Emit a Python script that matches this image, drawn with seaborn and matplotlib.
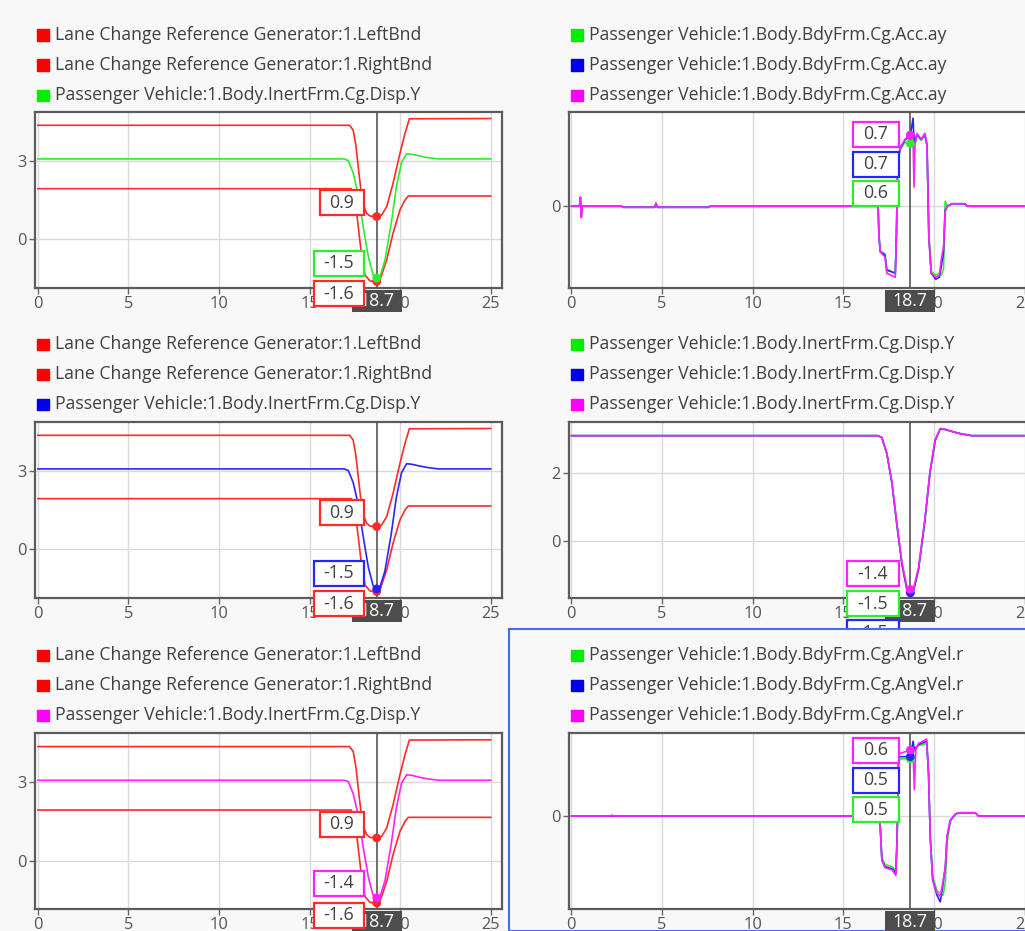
import numpy as np
import matplotlib
matplotlib.use("Agg")
import matplotlib.pyplot as plt
import matplotlib.transforms as mtransforms
from matplotlib.patches import Rectangle
import seaborn as sns

# ---------------- data ----------------
cursor_time = 18.7
x_ticks = [0, 5, 10, 15, 20, 25]

t_left_bnd = [0.0, 17.2, 17.4, 17.55, 17.68, 17.87, 18.0, 18.14, 18.33, 18.7, 18.97, 19.25, 19.6, 19.98, 20.26, 20.5, 25.0]
left_bnd = [4.37, 4.37, 4.19, 3.6, 2.78, 1.63, 1.25, 1.0, 0.89, 0.87, 0.93, 1.25, 2.14, 3.29, 4.06, 4.62, 4.63]

t_right_bnd = [0.0, 17.3, 17.5, 17.68, 17.87, 18.05, 18.33, 18.7, 18.88, 19.25, 19.6, 19.98, 20.26, 20.44, 25.0]
right_bnd = [1.94, 1.94, 1.5, 0.49, -0.66, -1.37, -1.6, -1.62, -1.56, -0.79, 0.23, 1.12, 1.5, 1.66, 1.66]

t_disp = [0.0, 16.9, 17.13, 17.4, 17.68, 17.96, 18.24, 18.5, 18.7, 18.88, 19.15, 19.5, 19.78, 20.07, 20.35, 20.63, 21.08, 21.45, 22.1, 25.0]
disp_green = [3.08, 3.08, 3.02, 2.55, 1.7, 0.45, -0.68, -1.37, -1.49, -1.43, -0.82, 0.6, 2.0, 2.95, 3.28, 3.26, 3.19, 3.14, 3.08, 3.08]
disp_blue = [3.08, 3.08, 3.02, 2.56, 1.72, 0.46, -0.7, -1.4, -1.52, -1.45, -0.84, 0.58, 1.98, 2.94, 3.28, 3.26, 3.19, 3.14, 3.08, 3.08]
disp_magenta = [3.08, 3.08, 3.03, 2.57, 1.74, 0.5, -0.64, -1.32, -1.42, -1.38, -0.78, 0.63, 2.02, 2.97, 3.29, 3.27, 3.19, 3.14, 3.08, 3.08]

t_acc = [0.0, 0.45, 0.5, 0.55, 0.6, 2.8, 2.85, 4.6, 4.67, 4.75, 7.6, 7.65, 16.92, 16.97, 17.04, 17.3, 17.4,
         17.87, 17.93, 18.0, 18.14, 18.4, 18.7, 18.85, 18.9, 18.95, 19.06, 19.3, 19.5, 19.62, 19.72, 19.85,
         20.1, 20.3, 20.4, 20.53, 20.62, 20.75, 21.0, 21.7, 21.85, 25.0]
acc_green = [0.0, 0.0, 0.08, -0.1, 0.0, 0.0, -0.01, -0.01, 0.02, -0.01, -0.01, 0.0, 0.0, -0.28, -0.44, -0.47, -0.62,
             -0.66, -0.3, 0.43, 0.56, 0.63, 0.62, 0.66, 0.7, 0.62, 0.7, 0.65, 0.7, 0.6, -0.28, -0.64,
             -0.68, -0.66, -0.68, -0.62, 0.05, 0.0, 0.025, 0.025, 0.0, 0.0]
acc_blue = [0.0, 0.0, 0.09, -0.11, 0.0, 0.0, -0.01, -0.01, 0.03, -0.01, -0.01, 0.0, 0.0, -0.3, -0.45, -0.48, -0.63,
            -0.66, -0.3, 0.45, 0.57, 0.65, 0.7, 0.87, 0.64, 0.62, 0.71, 0.66, 0.71, 0.6, -0.3, -0.66,
            -0.72, -0.7, -0.6, -0.45, -0.04, 0.0, 0.025, 0.025, 0.0, 0.0]
acc_magenta = [0.0, 0.0, 0.09, -0.11, 0.0, 0.0, -0.01, -0.01, 0.03, -0.01, -0.01, 0.0, 0.0, -0.3, -0.45, -0.5, -0.66,
               -0.7, -0.3, 0.45, 0.58, 0.66, 0.7, 0.66, 0.19, 0.6, 0.72, 0.66, 0.72, 0.6, -0.3, -0.66,
               -0.7, -0.68, -0.53, -0.4, -0.05, 0.0, 0.025, 0.025, 0.0, 0.0]

t_yaw = [0.0, 2.2, 2.25, 2.3, 16.95, 17.04, 17.13, 17.3, 17.7, 17.9, 17.97, 18.05, 18.14, 18.7, 18.85, 18.92, 19.0,
         19.15, 19.6, 19.7, 19.8, 19.93, 20.17, 20.35, 20.5, 20.63, 20.72, 20.9, 21.2, 21.45, 22.28, 22.46, 25.0]
yaw_green = [0.0, 0.0, 0.0, 0.0, 0.0, -0.1, -0.38, -0.44, -0.46, -0.5, -0.2, 0.5, 0.52, 0.52, 0.56, 0.6, 0.62,
             0.64, 0.66, 0.4, -0.2, -0.55, -0.68, -0.7, -0.72, -0.6, -0.25, -0.05, 0.02, 0.03, 0.03, 0.0, 0.0]
yaw_blue = [0.0, 0.0, 0.0, 0.0, 0.0, -0.1, -0.4, -0.46, -0.48, -0.52, -0.2, 0.52, 0.54, 0.54, 0.68, 0.6, 0.62,
            0.65, 0.68, 0.4, -0.2, -0.58, -0.72, -0.78, -0.62, -0.46, -0.19, -0.04, 0.02, 0.03, 0.03, 0.0, 0.0]
yaw_magenta = [0.0, 0.0, 0.01, 0.0, 0.0, -0.1, -0.4, -0.47, -0.49, -0.54, -0.2, 0.55, 0.57, 0.6, 0.58, 0.24, 0.6,
               0.66, 0.7, 0.4, -0.2, -0.58, -0.7, -0.73, -0.6, -0.46, -0.19, -0.04, 0.02, 0.03, 0.03, 0.0, 0.0]

lbl_left = "Lane Change Reference Generator:1.LeftBnd"
lbl_right = "Lane Change Reference Generator:1.RightBnd"
lbl_disp = "Passenger Vehicle:1.Body.InertFrm.Cg.Disp.Y"
lbl_acc = "Passenger Vehicle:1.Body.BdyFrm.Cg.Acc.ay"
lbl_yaw = "Passenger Vehicle:1.Body.BdyFrm.Cg.AngVel.r"

cursor_vals_1 = [0.9, -1.5, -1.6]
cursor_vals_2 = [0.7, 0.7, 0.6]
cursor_vals_3 = [0.9, -1.5, -1.6]
cursor_vals_4 = [-1.4, -1.5, -1.5]
cursor_vals_5 = [0.9, -1.4, -1.6]
cursor_vals_6 = [0.6, 0.5, 0.5]

# ---------------- style ----------------
W, H = 1025, 931
BG = "#f8f8f8"
RED, GREEN, BLUE, MAG = "#ff2a2a", "#2cee2c", "#2626ff", "#ff22ff"
SQ = {RED: "#ff0000", GREEN: "#00ee00", BLUE: "#0000ee", MAG: "#ff00ff"}
TXT = "#404040"
TICK = "#555555"
FS_LEG = 12.7
FS_TICK = 11.8
FS_LBL = 12.8

sns.set_theme(style="white")
plt.rcParams["font.family"] = ["Open Sans", "DejaVu Sans"]

fig = plt.figure(figsize=(W / 100, H / 100), dpi=100, facecolor=BG)

panels = [
    dict(box=(35, 112, 502, 288), xlim=(-0.149, 25.61), ylim=(-1.87, 4.88), yticks=[0, 3],
         series=[(t_left_bnd, left_bnd, RED, lbl_left), (t_right_bnd, right_bnd, RED, lbl_right),
                 (t_disp, disp_green, GREEN, lbl_disp)],
         legend_y=[35, 65, 95], lx=43,
         cur=[(0, cursor_vals_1[0], RED, 44, -13), (2, cursor_vals_1[1], GREEN, 50, -15),
              (1, cursor_vals_1[2], RED, 50, 13)], dxr=-13),
    dict(box=(569, 112, 1036, 288), xlim=(-0.127, 25.63), ylim=(-0.806, 0.93), yticks=[0],
         series=[(t_acc, acc_green, GREEN, lbl_acc), (t_acc, acc_blue, BLUE, lbl_acc),
                 (t_acc, acc_magenta, MAG, lbl_acc)],
         legend_y=[35, 65, 95], lx=577,
         cur=[(2, cursor_vals_2[0], MAG, 46, -1), (1, cursor_vals_2[1], BLUE, 46, 29),
              (0, cursor_vals_2[2], GREEN, 46, 48)], dxr=-11.5),
    dict(box=(35, 422, 502, 598), xlim=(-0.149, 25.61), ylim=(-1.87, 4.88), yticks=[0, 3],
         series=[(t_left_bnd, left_bnd, RED, lbl_left), (t_right_bnd, right_bnd, RED, lbl_right),
                 (t_disp, disp_blue, BLUE, lbl_disp)],
         legend_y=[344, 374, 404], lx=43,
         cur=[(0, cursor_vals_3[0], RED, 44, -13), (2, cursor_vals_3[1], BLUE, 50, -15),
              (1, cursor_vals_3[2], RED, 50, 13)], dxr=-13),
    dict(box=(569, 422, 1036, 598), xlim=(-0.127, 25.63), ylim=(-1.67, 3.48), yticks=[0, 2],
         series=[(t_disp, disp_green, GREEN, lbl_disp), (t_disp, disp_blue, BLUE, lbl_disp),
                 (t_disp, disp_magenta, MAG, lbl_disp)],
         legend_y=[344, 374, 404], lx=577,
         cur=[(1, cursor_vals_4[2], BLUE, 52, 40.5), (0, cursor_vals_4[1], GREEN, 52, 11.5),
              (2, cursor_vals_4[0], MAG, 52, -15)], dxr=-11.5),
    dict(box=(35, 733, 502, 909), xlim=(-0.149, 25.61), ylim=(-1.85, 4.89), yticks=[0, 3],
         series=[(t_left_bnd, left_bnd, RED, lbl_left), (t_right_bnd, right_bnd, RED, lbl_right),
                 (t_disp, disp_magenta, MAG, lbl_disp)],
         legend_y=[655, 685, 715], lx=43,
         cur=[(0, cursor_vals_5[0], RED, 44, -13), (2, cursor_vals_5[1], MAG, 50, -14),
              (1, cursor_vals_5[2], RED, 50, 13)], dxr=-13),
    dict(box=(569, 733, 1036, 909), xlim=(-0.127, 25.63), ylim=(-0.845, 0.755), yticks=[0],
         series=[(t_yaw, yaw_green, GREEN, lbl_yaw), (t_yaw, yaw_blue, BLUE, lbl_yaw),
                 (t_yaw, yaw_magenta, MAG, lbl_yaw)],
         legend_y=[655, 685, 715], lx=577,
         cur=[(2, cursor_vals_6[0], MAG, 46, 0), (1, cursor_vals_6[1], BLUE, 46, 19),
              (0, cursor_vals_6[2], GREEN, 46, 48.5)], dxr=-11.5),
]

# selection frame around bottom-right panel
sel = Rectangle((509 / W, 0), 0.6, 1 - 629 / H, transform=fig.transFigure, fc=BG, ec="#3f6df5",
                lw=1.5, zorder=0.5)
fig.add_artist(sel)

for i, p in enumerate(panels):
    l, t, r, b = p["box"]
    ax = fig.add_axes([l / W, 1 - b / H, (r - l) / W, (b - t) / H], zorder=1 if i == 5 else 0)
    ax.set_facecolor("white")
    for (tt, yy, c, lab) in p["series"]:
        sns.lineplot(x=tt, y=yy, ax=ax, color=c, lw=1.2, legend=False, estimator=None, sort=False)
    ax.set_xlim(*p["xlim"])
    ax.set_ylim(*p["ylim"])
    ax.set_xticks(x_ticks)
    ax.set_yticks(p["yticks"])
    ax.set_xticklabels([str(v) for v in x_ticks])
    ax.set_yticklabels([str(v) for v in p["yticks"]])
    ax.grid(True, color="#dadada", lw=1)
    ax.set_axisbelow(True)
    ax.set_xlabel("")
    ax.set_ylabel("")
    for s in ax.spines.values():
        s.set_color("#5c5c5c")
        s.set_linewidth(1.6)
    ax.tick_params(bottom=True, left=True, length=4, width=1, color="#666666", labelsize=FS_TICK,
                   labelcolor=TICK, pad=2)

    # cursor line
    ax.axvline(cursor_time, color="#555555", lw=1.2, zorder=3)
    # dots
    for (tt, yy, c, lab) in p["series"]:
        ax.scatter([cursor_time], [np.interp(cursor_time, tt, yy)], s=40, color=c, zorder=4,
                   edgecolor="none")

    # time box under the axis
    bt = mtransforms.blended_transform_factory(ax.transData, ax.transAxes)
    off = mtransforms.ScaledTranslation(cursor_time, 0, bt)
    ax.add_patch(Rectangle((-25, -24), 50, 22, transform=off, fc="#4d4d4d", ec="none",
                           clip_on=False, zorder=5))
    ax.text(0, -13, f"{cursor_time:.1f}", transform=off, ha="center", va="center", color="white",
            fontsize=FS_LBL, clip_on=False, zorder=5.1)

    # value labels
    for k, (si, val, c, w, dy) in enumerate(p["cur"]):
        off = mtransforms.ScaledTranslation(cursor_time, val, ax.transData)
        x1 = p["dxr"]
        yc = -dy
        ax.add_patch(Rectangle((x1 - w, yc - 12.5), w, 25, transform=off, fc="white", ec=c,
                               lw=1.6, clip_on=False, zorder=6 + k * 0.1))
        ax.text(x1 - w / 2, yc, f"{val:.1f}", transform=off, ha="center", va="center",
                color=TXT, fontsize=FS_LBL, clip_on=False, zorder=6.05 + k * 0.1)

    # legend
    for (tt, yy, c, lab), ly in zip(p["series"], p["legend_y"]):
        fig.add_artist(Rectangle(((p["lx"] - 6) / W, 1 - (ly + 5.5) / H), 12 / W, 11 / H,
                                 transform=fig.transFigure, color=SQ[c], zorder=3))
        fig.text((p["lx"] + 12) / W, 1 - ly / H, lab, ha="left", va="center", fontsize=FS_LEG,
                 color=TXT, zorder=3)

fig.savefig("out.png", dpi=100, facecolor=BG)
